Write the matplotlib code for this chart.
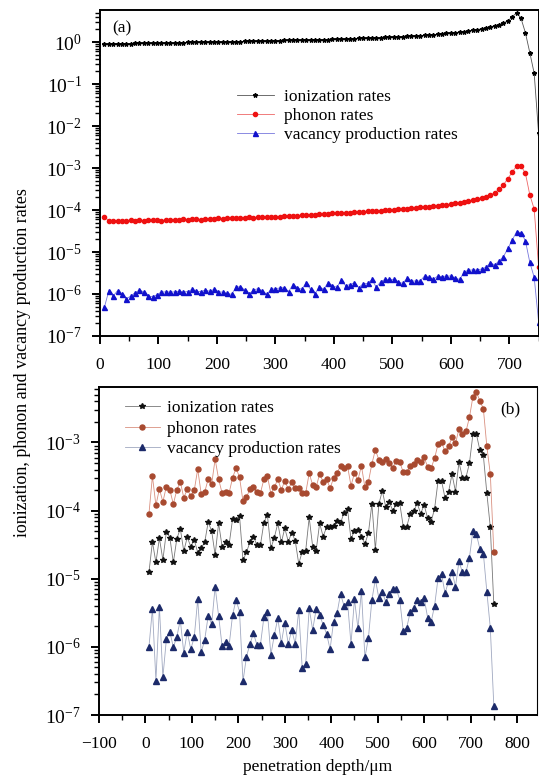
"""
Ion energy loss along the penetration path: ionization, phonon and
vacancy production rates, (a) averaged profile and (b) single-run profile.
"""

import matplotlib
matplotlib.use("Agg")
import matplotlib.pyplot as plt
from matplotlib.ticker import MultipleLocator, LogLocator, NullFormatter

plt.rcParams["font.family"] = ["Liberation Serif", "DejaVu Serif"]
plt.rcParams["mathtext.fontset"] = "stix"

# depth bins (um), shared by both panels
depth_um = [
    7.5, 15.0, 22.5, 30.0, 37.5, 45.0, 52.5, 60.0, 67.5, 75.0,
    82.5, 90.0, 97.5, 105.0, 112.5, 120.0, 127.5, 135.0, 142.5, 150.0,
    157.5, 165.0, 172.5, 180.0, 187.5, 195.0, 202.5, 210.0, 217.5, 225.0,
    232.5, 240.0, 247.5, 255.0, 262.5, 270.0, 277.5, 285.0, 292.5, 300.0,
    307.5, 315.0, 322.5, 330.0, 337.5, 345.0, 352.5, 360.0, 367.5, 375.0,
    382.5, 390.0, 397.5, 405.0, 412.5, 420.0, 427.5, 435.0, 442.5, 450.0,
    457.5, 465.0, 472.5, 480.0, 487.5, 495.0, 502.5, 510.0, 517.5, 525.0,
    532.5, 540.0, 547.5, 555.0, 562.5, 570.0, 577.5, 585.0, 592.5, 600.0,
    607.5, 615.0, 622.5, 630.0, 637.5, 645.0, 652.5, 660.0, 667.5, 675.0,
    682.5, 690.0, 697.5, 705.0, 712.5, 720.0, 727.5, 735.0, 742.5, 750.0,
]

# ---- panel (a) ----
ion_a = [
    0.90, 0.90, 0.91, 0.91, 0.92, 0.92, 0.92, 0.93, 0.93, 0.94,
    0.94, 0.94, 0.95, 0.95, 0.96, 0.96, 0.96, 0.97, 0.97, 0.98,
    0.98, 0.98, 0.99, 0.99, 1.00, 1.00, 1.01, 1.01, 1.02, 1.02,
    1.03, 1.03, 1.04, 1.04, 1.05, 1.05, 1.06, 1.07, 1.07, 1.08,
    1.08, 1.09, 1.09, 1.10, 1.11, 1.11, 1.12, 1.13, 1.13, 1.14,
    1.15, 1.15, 1.16, 1.17, 1.18, 1.19, 1.20, 1.21, 1.22, 1.23,
    1.24, 1.25, 1.26, 1.27, 1.29, 1.30, 1.32, 1.33, 1.35, 1.37,
    1.39, 1.41, 1.43, 1.45, 1.48, 1.50, 1.53, 1.56, 1.60, 1.64,
    1.68, 1.73, 1.78, 1.84, 1.91, 1.98, 2.07, 2.17, 2.30, 2.45,
    2.60, 2.85, 3.20, 4.00, 5.00, 3.66, 1.66, 0.56, 0.18, 6.8e-3,
]
phon_a = [
    6.9e-5, 5.6e-5, 5.5e-5, 5.6e-5, 5.6e-5, 5.6e-5, 5.7e-5, 5.6e-5, 5.7e-5, 5.6e-5,
    5.7e-5, 5.9e-5, 5.7e-5, 5.6e-5, 5.8e-5, 5.9e-5, 5.8e-5, 5.9e-5, 6.0e-5, 5.9e-5,
    6.0e-5, 6.0e-5, 5.9e-5, 6.1e-5, 6.0e-5, 6.2e-5, 6.3e-5, 6.2e-5, 6.4e-5, 6.3e-5,
    6.5e-5, 6.4e-5, 6.6e-5, 6.7e-5, 6.6e-5, 6.8e-5, 6.8e-5, 6.9e-5, 7.0e-5, 6.9e-5,
    7.0e-5, 7.1e-5, 7.2e-5, 7.3e-5, 7.4e-5, 7.5e-5, 7.6e-5, 7.7e-5, 7.8e-5, 7.9e-5,
    8.0e-5, 8.2e-5, 8.3e-5, 8.4e-5, 8.5e-5, 8.6e-5, 8.7e-5, 8.9e-5, 9.0e-5, 9.1e-5,
    9.3e-5, 9.4e-5, 9.6e-5, 9.7e-5, 9.9e-5, 1.0e-4, 1.02e-4, 1.04e-4, 1.06e-4, 1.08e-4,
    1.10e-4, 1.12e-4, 1.15e-4, 1.17e-4, 1.20e-4, 1.23e-4, 1.26e-4, 1.30e-4, 1.34e-4, 1.38e-4,
    1.43e-4, 1.48e-4, 1.54e-4, 1.61e-4, 1.69e-4, 1.78e-4, 1.90e-4, 2.05e-4, 2.25e-4, 2.60e-4,
    3.10e-4, 4.00e-4, 5.60e-4, 8.00e-4, 1.12e-3, 1.12e-3, 7.50e-4, 2.30e-4, 1.05e-4, 4.5e-6,
]
vac_a = [
    4.8e-7, 1.18e-6, 8.9e-7, 1.20e-6, 9.8e-7, 7.7e-7, 8.9e-7, 1.08e-6, 1.24e-6, 1.12e-6,
    8.9e-7, 8.6e-7, 9.6e-7, 1.12e-6, 1.12e-6, 1.12e-6, 1.12e-6, 1.16e-6, 1.12e-6, 1.14e-6,
    1.29e-6, 1.16e-6, 1.14e-6, 1.24e-6, 1.16e-6, 1.29e-6, 1.14e-6, 1.10e-6, 1.04e-6, 9.8e-7,
    1.44e-6, 1.50e-6, 1.24e-6, 1.00e-6, 1.24e-6, 1.34e-6, 1.20e-6, 9.8e-7, 1.29e-6, 1.34e-6,
    1.39e-6, 1.42e-6, 1.14e-6, 1.67e-6, 1.42e-6, 1.29e-6, 1.86e-6, 1.29e-6, 1.00e-6, 1.50e-6,
    1.29e-6, 1.86e-6, 1.58e-6, 1.44e-6, 2.15e-6, 1.58e-6, 1.67e-6, 1.86e-6, 1.42e-6, 1.76e-6,
    1.79e-6, 2.23e-6, 1.44e-6, 1.97e-6, 2.23e-6, 2.23e-6, 2.23e-6, 1.93e-6, 1.79e-6, 2.36e-6,
    2.04e-6, 2.04e-6, 2.04e-6, 2.68e-6, 2.49e-6, 2.23e-6, 2.68e-6, 2.59e-6, 2.68e-6, 2.68e-6,
    2.36e-6, 2.23e-6, 3.28e-6, 3.73e-6, 3.73e-6, 3.73e-6, 3.94e-6, 4.32e-6, 5.57e-6, 4.90e-6,
    6.22e-6, 7.74e-6, 1.22e-5, 1.93e-5, 3.05e-5, 2.88e-5, 1.86e-5, 5.68e-6, 2.49e-6, 2.19e-7,
]

# ---- panel (b) ----
ion_b = [
    1.24e-5, 3.47e-5, 1.73e-5, 3.93e-5, 1.89e-5, 4.86e-5, 4.02e-5, 1.73e-5, 3.84e-5, 5.44e-5,
    2.53e-5, 4.06e-5, 2.96e-5, 3.72e-5, 2.42e-5, 2.83e-5, 3.40e-5, 6.75e-5, 5.03e-5, 2.23e-5,
    6.53e-5, 2.96e-5, 3.40e-5, 3.13e-5, 7.46e-5, 7.29e-5, 8.45e-5, 1.85e-5, 2.45e-5, 3.44e-5,
    4.16e-5, 3.10e-5, 3.10e-5, 6.67e-5, 8.65e-5, 2.80e-5, 4.02e-5, 6.53e-5, 3.40e-5, 5.51e-5,
    3.51e-5, 4.75e-5, 3.59e-5, 1.65e-5, 2.50e-5, 2.59e-5, 7.91e-5, 2.96e-5, 2.59e-5, 6.53e-5,
    4.16e-5, 5.70e-5, 5.83e-5, 5.96e-5, 7.14e-5, 6.53e-5, 9.35e-5, 1.06e-4, 3.80e-5, 5.09e-5,
    5.21e-5, 4.16e-5, 3.24e-5, 4.66e-5, 1.25e-4, 2.65e-5, 1.25e-4, 1.95e-4, 1.11e-4, 1.33e-4,
    9.90e-5, 1.24e-4, 1.27e-4, 5.83e-5, 5.83e-5, 8.85e-5, 9.70e-5, 1.28e-4, 9.00e-5, 1.21e-4,
    7.73e-5, 6.90e-5, 1.06e-4, 2.73e-4, 2.73e-4, 1.52e-4, 1.86e-4, 3.42e-4, 1.90e-4, 5.13e-4,
    3.05e-4, 3.05e-4, 4.91e-4, 1.32e-3, 1.32e-3, 7.69e-4, 6.43e-4, 1.80e-4, 5.64e-5, 4.22e-6,
]
phon_b = [
    8.9e-5, 3.20e-4, 1.19e-4, 2.08e-4, 1.34e-4, 2.25e-4, 2.01e-4, 1.24e-4, 2.01e-4, 2.64e-4,
    1.55e-4, 2.04e-4, 1.64e-4, 1.97e-4, 4.05e-4, 1.76e-4, 1.86e-4, 2.89e-4, 2.44e-4, 5.68e-4,
    2.89e-4, 1.80e-4, 1.88e-4, 1.80e-4, 3.02e-4, 4.19e-4, 3.09e-4, 1.36e-4, 1.57e-4, 2.06e-4,
    2.25e-4, 1.84e-4, 1.80e-4, 2.89e-4, 3.24e-4, 1.76e-4, 2.20e-4, 2.89e-4, 2.01e-4, 2.73e-4,
    2.06e-4, 2.58e-4, 2.13e-4, 2.13e-4, 1.80e-4, 1.80e-4, 3.54e-4, 2.36e-4, 2.20e-4, 3.46e-4,
    2.64e-4, 2.89e-4, 2.13e-4, 2.99e-4, 3.61e-4, 4.44e-4, 4.19e-4, 4.53e-4, 2.31e-4, 3.54e-4,
    2.83e-4, 4.53e-4, 2.18e-4, 2.64e-4, 4.85e-4, 7.78e-4, 5.55e-4, 5.13e-4, 5.74e-4, 4.91e-4,
    4.28e-4, 5.37e-4, 5.13e-4, 3.66e-4, 3.66e-4, 4.44e-4, 4.80e-4, 5.55e-4, 5.13e-4, 6.01e-4,
    4.39e-4, 4.19e-4, 5.87e-4, 9.44e-4, 9.98e-4, 7.36e-4, 8.71e-4, 1.18e-3, 9.64e-4, 1.58e-3,
    1.32e-3, 1.45e-3, 2.32e-3, 4.68e-3, 5.47e-3, 4.08e-3, 3.11e-3, 8.71e-4, 3.42e-4, 2.50e-5,
]
vac_b = [
    9.9e-7, 3.64e-6, 3.19e-7, 3.90e-6, 3.57e-7, 1.29e-6, 1.66e-6, 9.9e-7, 1.40e-6, 2.48e-6,
    8.2e-7, 1.66e-6, 9.2e-7, 1.38e-6, 5.00e-6, 8.3e-7, 1.26e-6, 2.84e-6, 2.14e-6, 7.66e-6,
    2.84e-6, 1.03e-6, 1.19e-6, 1.03e-6, 2.91e-6, 4.89e-6, 3.29e-6, 3.12e-7, 7.2e-7, 1.10e-6,
    1.58e-6, 1.07e-6, 1.07e-6, 2.72e-6, 3.29e-6, 7.6e-7, 1.50e-6, 2.62e-6, 1.13e-6, 2.27e-6,
    1.10e-6, 1.77e-6, 1.10e-6, 3.48e-6, 4.84e-7, 5.61e-7, 3.68e-6, 1.77e-6, 3.56e-6, 2.94e-6,
    2.10e-6, 1.55e-6, 9.2e-7, 2.35e-6, 3.11e-6, 5.98e-6, 3.99e-6, 4.61e-6, 1.10e-6, 5.00e-6,
    1.87e-6, 6.62e-6, 7.0e-7, 1.34e-6, 4.89e-6, 9.8e-6, 5.16e-6, 6.47e-6, 4.51e-6, 5.92e-6,
    7.08e-6, 7.08e-6, 4.89e-6, 1.71e-6, 1.91e-6, 3.22e-6, 3.68e-6, 4.89e-6, 4.51e-6, 5.16e-6,
    2.69e-6, 2.30e-6, 4.03e-6, 1.02e-5, 1.16e-5, 6.12e-6, 9.1e-6, 1.27e-5, 7.66e-6, 1.79e-5,
    1.24e-5, 1.24e-5, 2.04e-5, 5.03e-5, 4.50e-5, 2.74e-5, 2.34e-5, 6.47e-6, 1.87e-6, 1.37e-7,
]

labels = ["ionization rates", "phonon rates", "vacancy production rates"]
FS = 12.5


def style_axis(ax):
    for sp in ax.spines.values():
        sp.set_linewidth(1.4)
    ax.set_yscale("log")
    ax.yaxis.set_major_locator(LogLocator(base=10, numticks=20))
    ax.yaxis.set_minor_locator(LogLocator(base=10, subs=range(2, 10), numticks=20))
    ax.yaxis.set_minor_formatter(NullFormatter())
    ax.xaxis.set_major_locator(MultipleLocator(100))
    ax.xaxis.set_minor_locator(MultipleLocator(50))
    ax.tick_params(which="major", direction="out", length=6, width=1.4,
                   top=False, right=False)
    ax.tick_params(which="minor", direction="out", length=3.5, width=1.0,
                   top=False, right=False)
    ax.tick_params(axis="x", which="major", labelsize=FS, pad=9)
    ax.tick_params(axis="y", which="major", labelsize=14, pad=7)


fig = plt.figure(figsize=(5.39, 7.81), dpi=100)

# (a)
ax1 = fig.add_axes([0.1855, 0.5698, 0.8137, 0.4174])
ax1.plot(depth_um, ion_a, color="#555555", lw=0.6, marker="*", ms=3.2,
         mfc="black", mec="black", label=labels[0])
ax1.plot(depth_um, phon_a, color="#ee6666", lw=0.6, marker="o", ms=3.0,
         mfc="#ee1111", mec="#ee1111", label=labels[1])
ax1.plot(depth_um, vac_a, color="#7777dd", lw=0.6, marker="^", ms=3.6,
         mfc="#1111cc", mec="#1111cc", label=labels[2])
style_axis(ax1)
ax1.set_xlim(0, 750)
ax1.set_ylim(1e-7, 5.8)
ax1.legend(loc="upper left", bbox_to_anchor=(0.313, 0.757), frameon=False,
           fontsize=FS, handlelength=2.1, handletextpad=0.6, labelspacing=0.16,
           borderpad=0, borderaxespad=0)
ax1.text(0.05, 0.945, "(a)", transform=ax1.transAxes, fontsize=FS,
         ha="center", va="center")

# (b)
ax2 = fig.add_axes([0.1837, 0.0845, 0.8126, 0.42])
ax2.plot(depth_um, ion_b, color="#777777", lw=0.6, marker="*", ms=4.2,
         mfc="#111111", mec="#111111", label=labels[0])
ax2.plot(depth_um, phon_b, color="#d99080", lw=0.6, marker="o", ms=3.6,
         mfc="#a84a30", mec="#a84a30", label=labels[1])
ax2.plot(depth_um, vac_b, color="#a0a8c0", lw=0.6, marker="^", ms=3.8,
         mfc="#1c2a6a", mec="#1c2a6a", label=labels[2])
style_axis(ax2)
ax2.spines["right"].set_linewidth(0.8)
ax2.set_xlim(-100, 843)
ax2.set_ylim(1e-7, 6.5e-3)
ax2.legend(loc="upper left", bbox_to_anchor=(0.059, 0.96), frameon=False,
           fontsize=FS, handlelength=2.0, handletextpad=0.4, labelspacing=0.24,
           borderpad=0, borderaxespad=0)
ax2.text(0.938, 0.933, "(b)", transform=ax2.transAxes, fontsize=FS,
         ha="center", va="center")
ax2.set_xlabel("penetration depth/\u03bcm", fontsize=FS, labelpad=5)

fig.text(0.041, 0.536, "ionization, phonon and vacancy production rates",
         rotation=90, ha="center", va="center", fontsize=13)

fig.savefig("out.png", dpi=100)
